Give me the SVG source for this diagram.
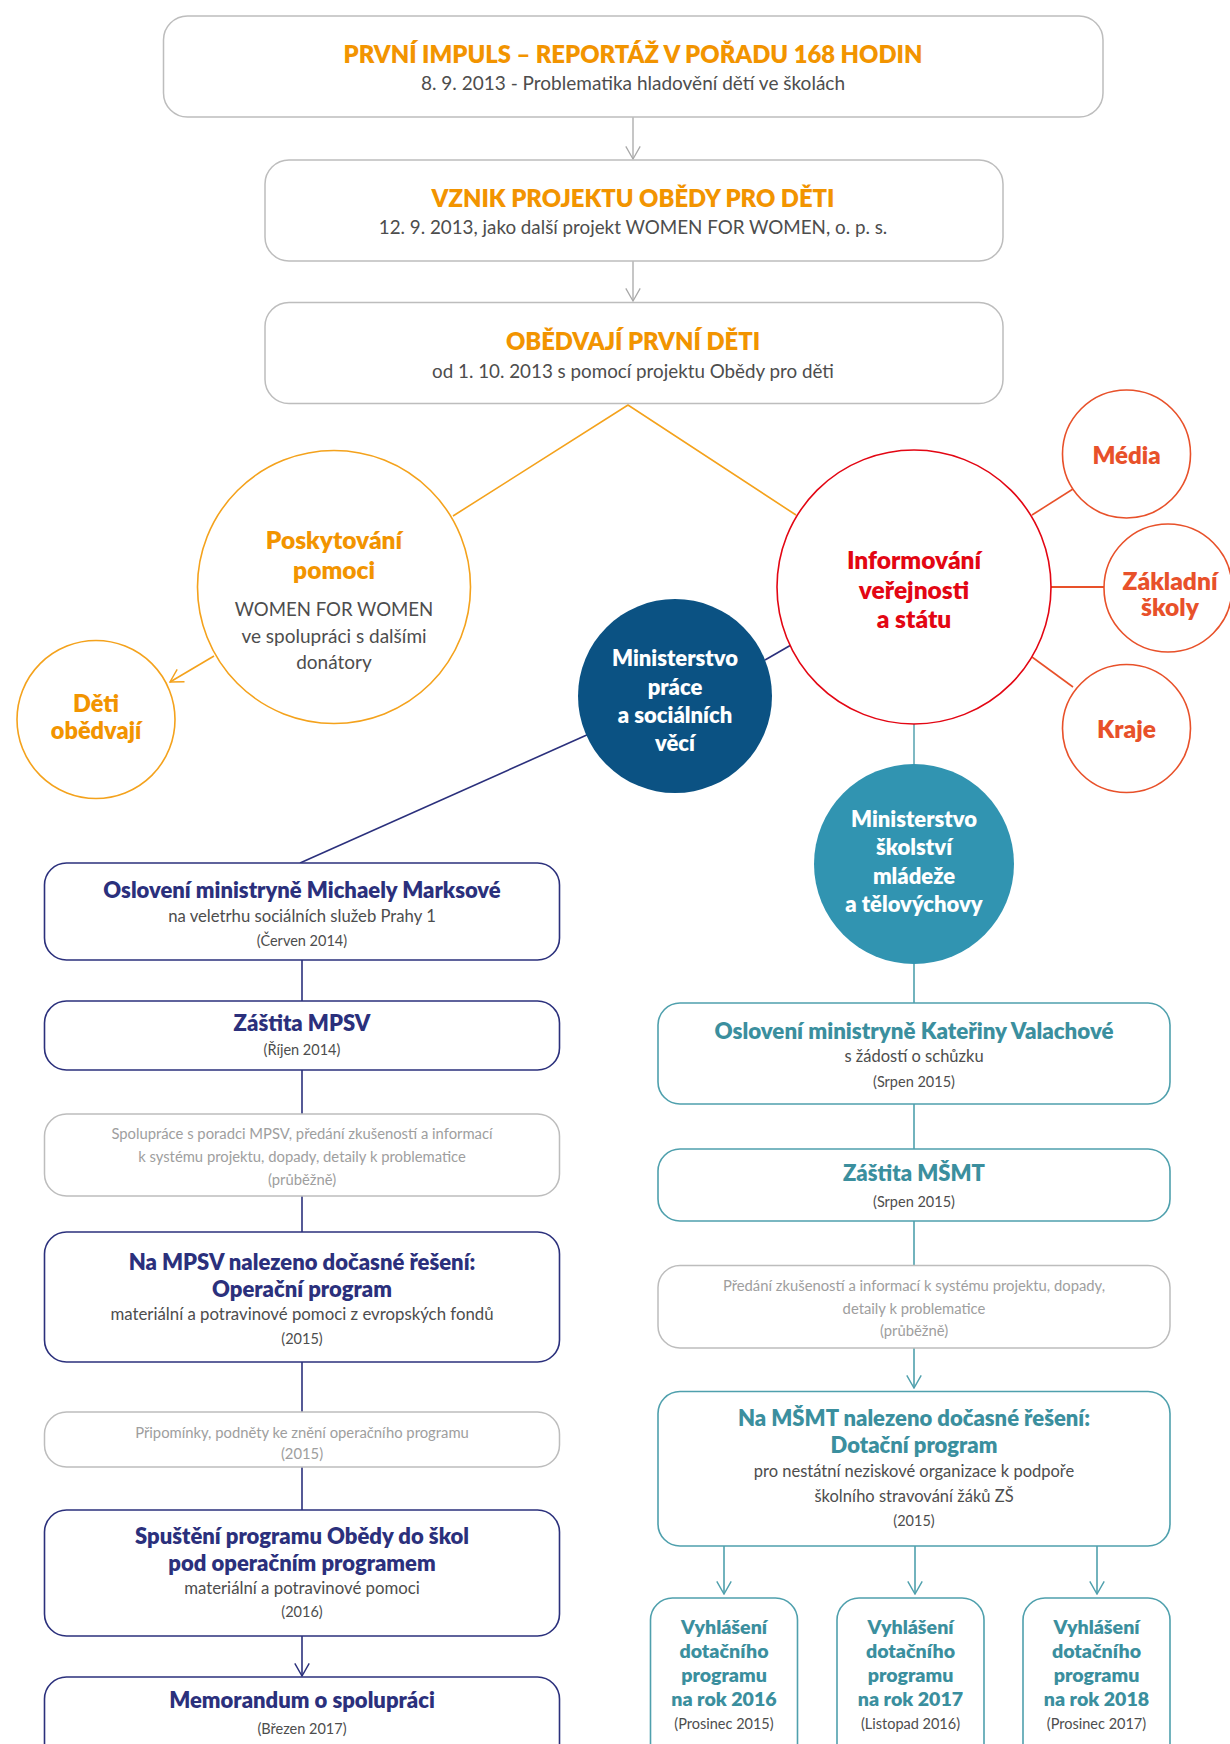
<svg xmlns="http://www.w3.org/2000/svg" width="1230" height="1744" viewBox="0 0 1230 1744">
<style>
text{font-family:"Lato","Noto Sans","Liberation Sans",sans-serif;text-anchor:middle;transform:translateY(1.2px)}
.gbox{fill:#fff;stroke:#BDBDBD;stroke-width:1.5}
.nbox{fill:#fff;stroke:#2B307C;stroke-width:1.6}
.tbox{fill:#fff;stroke:#4FA0AD;stroke-width:1.6}
.or{fill:#F29400;font-weight:800}
.body{fill:#4D4D4D}
.light{fill:#9E9E9E}
.navy{fill:#2B307C;font-weight:800}
.teal{fill:#3B8F9E;font-weight:800}
.red{fill:#E30613;font-weight:800}
.ored{fill:#E8512A;font-weight:800}
.white{fill:#fff;font-weight:800}
.small{fill:#4D4D4D;font-size:14.5px}
</style>
<defs>
<marker id="agray" markerUnits="userSpaceOnUse" markerWidth="18" markerHeight="18" viewBox="0 0 20 20" refX="19" refY="10" orient="auto"><path d="M5,2 L19,10 L5,18" fill="none" stroke="#A8A8A8" stroke-width="1.4"/></marker>
<marker id="aor" markerUnits="userSpaceOnUse" markerWidth="18" markerHeight="18" viewBox="0 0 20 20" refX="19" refY="10" orient="auto"><path d="M5,2 L19,10 L5,18" fill="none" stroke="#F4A21C" stroke-width="1.6"/></marker>
<marker id="anavy" markerUnits="userSpaceOnUse" markerWidth="18" markerHeight="18" viewBox="0 0 20 20" refX="19" refY="10" orient="auto"><path d="M5,2 L19,10 L5,18" fill="none" stroke="#2B307C" stroke-width="1.6"/></marker>
<marker id="ateal" markerUnits="userSpaceOnUse" markerWidth="18" markerHeight="18" viewBox="0 0 20 20" refX="19" refY="10" orient="auto"><path d="M5,2 L19,10 L5,18" fill="none" stroke="#4FA0AD" stroke-width="1.6"/></marker>
</defs>
<rect width="1230" height="1744" fill="#fff"/>

<g id="connectors" fill="none">
<line x1="633" y1="117" x2="633" y2="159" stroke="#A8A8A8" stroke-width="1.3" marker-end="url(#agray)"/>
<line x1="633" y1="261" x2="633" y2="301" stroke="#A8A8A8" stroke-width="1.3" marker-end="url(#agray)"/>
<polyline points="453,516 628,405 796,515" stroke="#F4A21C" stroke-width="1.6"/>
<line x1="214" y1="656" x2="170" y2="682" stroke="#F4A21C" stroke-width="1.6" marker-end="url(#aor)"/>
<line x1="1032" y1="515" x2="1073" y2="489" stroke="#E8512A" stroke-width="1.6"/>
<line x1="1051" y1="587" x2="1104" y2="587" stroke="#E8512A" stroke-width="2"/>
<line x1="1032" y1="657" x2="1073" y2="687" stroke="#E8512A" stroke-width="1.6"/>
<line x1="791" y1="645" x2="765" y2="660" stroke="#2B307C" stroke-width="1.6"/>
<line x1="589" y1="734" x2="300" y2="863" stroke="#2B307C" stroke-width="1.6"/>
<line x1="914" y1="724" x2="914" y2="764" stroke="#7FB9C3" stroke-width="2"/>
<line x1="914" y1="964" x2="914" y2="1003" stroke="#4FA0AD" stroke-width="1.6"/>
<line x1="302" y1="960" x2="302" y2="1001" stroke="#2B307C" stroke-width="1.6"/>
<line x1="302" y1="1070" x2="302" y2="1114" stroke="#2B307C" stroke-width="1.6"/>
<line x1="302" y1="1196" x2="302" y2="1232" stroke="#2B307C" stroke-width="1.6"/>
<line x1="302" y1="1362" x2="302" y2="1412" stroke="#2B307C" stroke-width="1.6"/>
<line x1="302" y1="1467" x2="302" y2="1510" stroke="#2B307C" stroke-width="1.6"/>
<line x1="302" y1="1636" x2="302" y2="1676" stroke="#2B307C" stroke-width="1.6" marker-end="url(#anavy)"/>
<line x1="914" y1="1104" x2="914" y2="1149" stroke="#4FA0AD" stroke-width="1.6"/>
<line x1="914" y1="1221" x2="914" y2="1265" stroke="#4FA0AD" stroke-width="1.6"/>
<line x1="914" y1="1348" x2="914" y2="1388" stroke="#4FA0AD" stroke-width="1.6" marker-end="url(#ateal)"/>
<line x1="724" y1="1546" x2="724" y2="1594" stroke="#4FA0AD" stroke-width="1.6" marker-end="url(#ateal)"/>
<line x1="915" y1="1546" x2="915" y2="1594" stroke="#4FA0AD" stroke-width="1.6" marker-end="url(#ateal)"/>
<line x1="1097" y1="1546" x2="1097" y2="1594" stroke="#4FA0AD" stroke-width="1.6" marker-end="url(#ateal)"/>
</g>

<g id="n-impuls">
<rect class="gbox" x="163.5" y="16" width="939.5" height="101" rx="24"/>
<text class="or" x="633" y="62" font-size="23.8">PRVNÍ IMPULS – REPORTÁŽ V POŘADU 168 HODIN</text>
<text class="body" x="633" y="89" font-size="19">8. 9. 2013 - Problematika hladovění dětí ve školách</text>
</g>
<g id="n-vznik">
<rect class="gbox" x="265" y="160" width="738" height="101" rx="24"/>
<text class="or" x="633" y="206" font-size="23.8">VZNIK PROJEKTU OBĚDY PRO DĚTI</text>
<text class="body" x="633" y="233" font-size="18.8">12. 9. 2013, jako další projekt WOMEN FOR WOMEN, o. p. s.</text>
</g>
<g id="n-obedvaji">
<rect class="gbox" x="265" y="302.5" width="738" height="101" rx="24"/>
<text class="or" x="633" y="349" font-size="23.8">OBĚDVAJÍ PRVNÍ DĚTI</text>
<text class="body" x="633" y="377" font-size="18.8">od 1. 10. 2013 s pomocí projektu Obědy pro děti</text>
</g>

<g id="n-poskytovani">
<circle cx="334" cy="587" r="136.5" fill="#fff" stroke="#F4A21C" stroke-width="1.6"/>
<text class="or" x="334" y="548" font-size="24.5">Poskytování</text>
<text class="or" x="334" y="578" font-size="24.5">pomoci</text>
<text class="body" x="334" y="615" font-size="18.6">WOMEN FOR WOMEN</text>
<text class="body" x="334" y="642" font-size="19">ve spolupráci s dalšími</text>
<text class="body" x="334" y="668" font-size="19">donátory</text>
</g>
<g id="n-deti">
<circle cx="96" cy="719.5" r="79" fill="#fff" stroke="#F4A21C" stroke-width="1.6"/>
<text class="or" x="96" y="711" font-size="23.5">Děti</text>
<text class="or" x="96" y="738" font-size="23.5">obědvají</text>
</g>
<g id="n-informovani">
<circle cx="914" cy="587" r="137" fill="#fff" stroke="#E30613" stroke-width="1.6"/>
<text class="red" x="914" y="568" font-size="24.5">Informování</text>
<text class="red" x="914" y="598" font-size="24.5">veřejnosti</text>
<text class="red" x="914" y="627" font-size="24.5">a státu</text>
</g>
<g id="n-media">
<circle cx="1126.5" cy="454" r="64" fill="#fff" stroke="#E8512A" stroke-width="1.6"/>
<text class="ored" x="1126.5" y="463" font-size="24">Média</text>
</g>
<g id="n-zakladni">
<circle cx="1168" cy="588" r="64" fill="#fff" stroke="#E8512A" stroke-width="1.6"/>
<text class="ored" x="1170" y="589" font-size="24.5">Základní</text>
<text class="ored" x="1170" y="615" font-size="24.5">školy</text>
</g>
<g id="n-kraje">
<circle cx="1126.5" cy="728.5" r="64" fill="#fff" stroke="#E8512A" stroke-width="1.6"/>
<text class="ored" x="1126.5" y="737" font-size="24.5">Kraje</text>
</g>
<g id="n-mpsv">
<circle cx="675" cy="696" r="97" fill="#0B5283"/>
<text class="white" x="675" y="665" font-size="22">Ministerstvo</text>
<text class="white" x="675" y="694" font-size="22">práce</text>
<text class="white" x="675" y="722" font-size="22">a sociálních</text>
<text class="white" x="675" y="750" font-size="22">věcí</text>
</g>
<g id="n-msmt">
<circle cx="914" cy="864" r="100" fill="#3194B1"/>
<text class="white" x="914" y="826" font-size="22">Ministerstvo</text>
<text class="white" x="914" y="854" font-size="22">školství</text>
<text class="white" x="914" y="883" font-size="22">mládeže</text>
<text class="white" x="914" y="911" font-size="22">a tělovýchovy</text>
</g>

<g id="n-l1">
<rect class="nbox" x="44.5" y="863" width="515" height="97" rx="22"/>
<text class="navy" x="302" y="897" font-size="22">Oslovení ministryně Michaely Marksové</text>
<text class="body" x="302" y="921" font-size="16.7">na veletrhu sociálních služeb Prahy 1</text>
<text class="small" x="302" y="945">(Červen 2014)</text>
</g>
<g id="n-l2">
<rect class="nbox" x="44.5" y="1001" width="515" height="69" rx="22"/>
<text class="navy" x="302" y="1030" font-size="22">Záštita MPSV</text>
<text class="small" x="302" y="1054">(Říjen 2014)</text>
</g>
<g id="n-l3">
<rect class="gbox" x="44.5" y="1114" width="515" height="82" rx="22"/>
<text class="light" x="302" y="1138" font-size="14.8">Spolupráce s poradci MPSV, předání zkušeností  a informací</text>
<text class="light" x="302" y="1161" font-size="14.8">k systému projektu, dopady, detaily k problematice</text>
<text class="light" x="302" y="1184" font-size="14.8">(průběžně)</text>
</g>
<g id="n-l4">
<rect class="nbox" x="44.5" y="1232" width="515" height="130" rx="22"/>
<text class="navy" x="302" y="1269" font-size="22">Na MPSV nalezeno dočasné řešení:</text>
<text class="navy" x="302" y="1296" font-size="22">Operační program</text>
<text class="body" x="302" y="1319" font-size="16.8">materiální a potravinové pomoci z evropských fondů</text>
<text class="small" x="302" y="1343">(2015)</text>
</g>
<g id="n-l5">
<rect class="gbox" x="44.5" y="1412" width="515" height="55" rx="22"/>
<text class="light" x="302" y="1437" font-size="14.8">Připomínky, podněty ke znění operačního programu</text>
<text class="light" x="302" y="1458" font-size="14.8">(2015)</text>
</g>
<g id="n-l6">
<rect class="nbox" x="44.5" y="1510" width="515" height="126" rx="22"/>
<text class="navy" x="302" y="1543" font-size="22">Spuštění programu Obědy do škol</text>
<text class="navy" x="302" y="1570" font-size="22">pod operačním programem</text>
<text class="body" x="302" y="1593" font-size="16.8">materiální a potravinové pomoci</text>
<text class="small" x="302" y="1616">(2016)</text>
</g>
<g id="n-l7">
<rect class="nbox" x="44.5" y="1677" width="515" height="90" rx="22"/>
<text class="navy" x="302" y="1707" font-size="22">Memorandum o spolupráci</text>
<text class="small" x="302" y="1733">(Březen 2017)</text>
</g>

<g id="n-r1">
<rect class="tbox" x="658" y="1003" width="512" height="101" rx="22"/>
<text class="teal" x="914" y="1038" font-size="22.3">Oslovení ministryně Kateřiny Valachové</text>
<text class="body" x="914" y="1061" font-size="16.5">s žádostí o schůzku</text>
<text class="small" x="914" y="1086">(Srpen 2015)</text>
</g>
<g id="n-r2">
<rect class="tbox" x="658" y="1149" width="512" height="72" rx="22"/>
<text class="teal" x="914" y="1180" font-size="22">Záštita MŠMT</text>
<text class="small" x="914" y="1206">(Srpen 2015)</text>
</g>
<g id="n-r3">
<rect class="gbox" x="658" y="1265.5" width="512" height="82.5" rx="22"/>
<text class="light" x="914" y="1290" font-size="14.8">Předání zkušeností a informací k systému projektu, dopady,</text>
<text class="light" x="914" y="1313" font-size="14.8">detaily k problematice</text>
<text class="light" x="914" y="1335" font-size="14.8">(průběžně)</text>
</g>
<g id="n-r4">
<rect class="tbox" x="658" y="1391.5" width="512" height="154.5" rx="22"/>
<text class="teal" x="914" y="1425" font-size="22">Na MŠMT nalezeno dočasné řešení:</text>
<text class="teal" x="914" y="1452" font-size="22">Dotační program</text>
<text class="body" x="914" y="1476" font-size="16.5">pro nestátní neziskové organizace k podpoře</text>
<text class="body" x="914" y="1501" font-size="16.5">školního stravování žáků ZŠ</text>
<text class="small" x="914" y="1525">(2015)</text>
</g>
<g id="n-s1">
<rect class="tbox" x="650.5" y="1598" width="147" height="170" rx="22"/>
<text class="teal" x="724" y="1633" font-size="19.6">Vyhlášení</text>
<text class="teal" x="724" y="1657" font-size="19.6">dotačního</text>
<text class="teal" x="724" y="1681" font-size="19.6">programu</text>
<text class="teal" x="724" y="1705" font-size="19.6">na rok 2016</text>
<text class="small" x="724" y="1728">(Prosinec 2015)</text>
</g>
<g id="n-s2">
<rect class="tbox" x="837" y="1598" width="147" height="170" rx="22"/>
<text class="teal" x="910.5" y="1633" font-size="19.6">Vyhlášení</text>
<text class="teal" x="910.5" y="1657" font-size="19.6">dotačního</text>
<text class="teal" x="910.5" y="1681" font-size="19.6">programu</text>
<text class="teal" x="910.5" y="1705" font-size="19.6">na rok 2017</text>
<text class="small" x="910.5" y="1728">(Listopad 2016)</text>
</g>
<g id="n-s3">
<rect class="tbox" x="1023" y="1598" width="147" height="170" rx="22"/>
<text class="teal" x="1096.5" y="1633" font-size="19.6">Vyhlášení</text>
<text class="teal" x="1096.5" y="1657" font-size="19.6">dotačního</text>
<text class="teal" x="1096.5" y="1681" font-size="19.6">programu</text>
<text class="teal" x="1096.5" y="1705" font-size="19.6">na rok 2018</text>
<text class="small" x="1096.5" y="1728">(Prosinec 2017)</text>
</g>
</svg>
